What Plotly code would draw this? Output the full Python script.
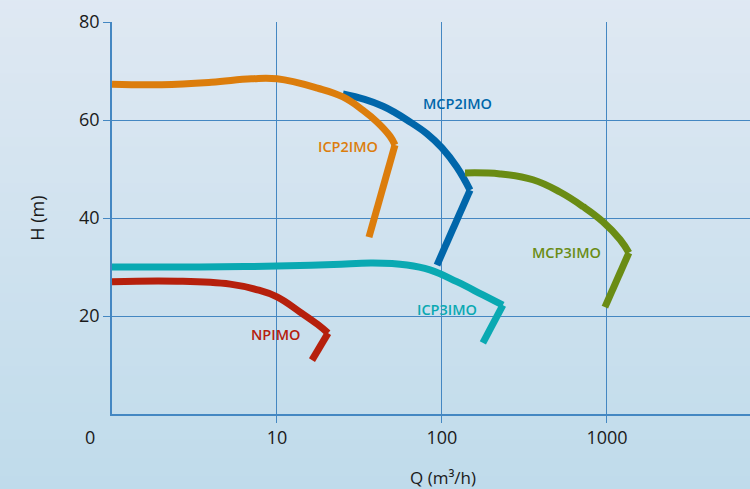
import math
import plotly.graph_objects as go

# ---- data (Q in m3/h, H in m) ----
icp2_curve_q = [1.0, 2.0, 4.0, 7.0, 10.0, 17.6, 25.1, 33.2, 40.4, 48.4, 51.9]
icp2_curve_h = [67.3, 67.2, 67.7, 68.4, 68.4, 66.5, 64.7, 62.0, 59.6, 56.7, 54.9]
icp2_tail_q = [51.9, 36.1]
icp2_tail_h = [54.9, 36.1]

mcp2_curve_q = [25.1, 34.0, 43.9, 52.0, 61.4, 81.1, 100.0, 123.0, 148.0]
mcp2_curve_h = [65.3, 64.2, 62.8, 61.5, 60.0, 57.2, 54.3, 50.4, 45.7]
mcp2_tail_q = [148.0, 93.3]
mcp2_tail_h = [45.7, 30.4]

mcp3_curve_q = [138.0, 225.0, 356.0, 519.0, 718.0, 940.0, 1200.0, 1358.0]
mcp3_curve_h = [49.2, 49.0, 47.8, 45.3, 42.3, 39.3, 35.6, 32.9]
mcp3_tail_q = [1358.0, 972.0]
mcp3_tail_h = [32.9, 21.8]

icp3_curve_q = [1.0, 3.4, 10.0, 22.0, 38.2, 61.4, 84.5, 123.0, 177.0, 234.0]
icp3_curve_h = [30.0, 30.0, 30.2, 30.5, 30.8, 30.4, 29.4, 27.0, 24.3, 22.2]
icp3_tail_q = [234.0, 177.0]
icp3_tail_h = [22.2, 14.5]

np_curve_q = [1.0, 2.5, 5.2, 7.5, 10.0, 13.8, 17.6, 20.4]
np_curve_h = [27.0, 27.1, 26.5, 25.4, 23.9, 20.8, 18.3, 16.5]
np_tail_q = [20.4, 16.3]
np_tail_h = [16.5, 11.0]

label_names = ["MCP2IMO", "ICP2IMO", "MCP3IMO", "ICP3IMO", "NPIMO"]
label_q = [125.0, 26.9, 565.0, 107.0, 9.86]
label_h = [63.3, 54.5, 32.9, 21.4, 16.3]

x_tickvals = [10, 100, 1000]
x_ticktext = ["10", "100", "1000"]
y_tickvals = [20, 40, 60, 80]

colors = {
    "ICP2IMO": "#dc7d0c",
    "MCP2IMO": "#0066aa",
    "MCP3IMO": "#6a8c14",
    "ICP3IMO": "#0aa9b2",
    "NPIMO": "#b6200c",
}

series = [
    ("MCP2IMO", mcp2_curve_q, mcp2_curve_h, mcp2_tail_q, mcp2_tail_h),
    ("MCP3IMO", mcp3_curve_q, mcp3_curve_h, mcp3_tail_q, mcp3_tail_h),
    ("ICP2IMO", icp2_curve_q, icp2_curve_h, icp2_tail_q, icp2_tail_h),
    ("ICP3IMO", icp3_curve_q, icp3_curve_h, icp3_tail_q, icp3_tail_h),
    ("NPIMO", np_curve_q, np_curve_h, np_tail_q, np_tail_h),
]

fig = go.Figure()
for name, cq, ch, tq, th in series:
    c = colors[name]
    fig.add_trace(go.Scatter(x=cq, y=ch, mode="lines", name=name,
                             line=dict(color=c, width=7, shape="spline", smoothing=1.2),
                             showlegend=False, hoverinfo="skip"))
    fig.add_trace(go.Scatter(x=tq, y=th, mode="lines", name=name,
                             line=dict(color=c, width=7),
                             showlegend=False, hoverinfo="skip"))

# background gradient (paper strips)
top = (224, 233, 243)
bot = (189, 218, 234)
n = 60
shapes = []
for i in range(n):
    t = i / (n - 1)
    r = round(top[0] + (bot[0] - top[0]) * t)
    g = round(top[1] + (bot[1] - top[1]) * t)
    b = round(top[2] + (bot[2] - top[2]) * t)
    shapes.append(dict(type="rect", xref="paper", yref="paper", layer="below",
                       x0=-0.3, x1=1.1, y0=1.1 - (i + 1) * 1.4 / n, y1=1.1 - i * 1.4 / n + 0.002,
                       fillcolor=f"rgb({r},{g},{b})", line=dict(width=0)))

for name, q, h in zip(label_names, label_q, label_h):
    fig.add_annotation(x=math.log10(q), y=h, text=name, showarrow=False,
                       font=dict(family="Open Sans", size=14.5, color=colors[name], weight=600))

fig.add_annotation(xref="paper", yref="paper", x=-0.023, y=-0.058, text="0", showarrow=False,
                   xanchor="right", yanchor="middle",
                   font=dict(family="Open Sans", size=18, color="#1a1a1a"))

fig.add_annotation(xref="paper", yref="paper", x=0.519, y=-0.163, text="Q (m³/h)", showarrow=False,
                   xanchor="center", yanchor="middle",
                   font=dict(family="Open Sans", size=17, color="#1a1a1a"))

grid = "#4487c2"
fig.update_layout(
    width=750, height=489,
    margin=dict(l=112, r=0, t=22, b=75),
    paper_bgcolor="#d3e3ef",
    plot_bgcolor="rgba(0,0,0,0)",
    shapes=shapes,
    font=dict(family="Open Sans", color="#1a1a1a"),
    xaxis=dict(type="log", range=[0, 3.867], tickvals=x_tickvals, ticktext=x_ticktext,
               showgrid=True, gridcolor=grid, gridwidth=1.2, zeroline=False,
               showline=True, linecolor=grid, linewidth=1.5,
               ticks="outside", ticklen=7, tickcolor=grid, tickwidth=1.2,
               tickfont=dict(size=18, color="#1a1a1a")),
    yaxis=dict(range=[0, 80], tickvals=y_tickvals,
               showgrid=True, gridcolor=grid, gridwidth=1.2, zeroline=False,
               showline=True, linecolor=grid, linewidth=1.5,
               ticks="outside", ticklen=7, tickcolor=grid, tickwidth=1.2,
               tickfont=dict(size=18, color="#1a1a1a"),
               title=dict(text="H (m)", font=dict(size=18, color="#1a1a1a"), standoff=30)),
)

fig.write_html("out.html", config={"displayModeBar": False},
               post_script="document.body.style.margin='0';document.body.style.background='#d3e3ef';")
